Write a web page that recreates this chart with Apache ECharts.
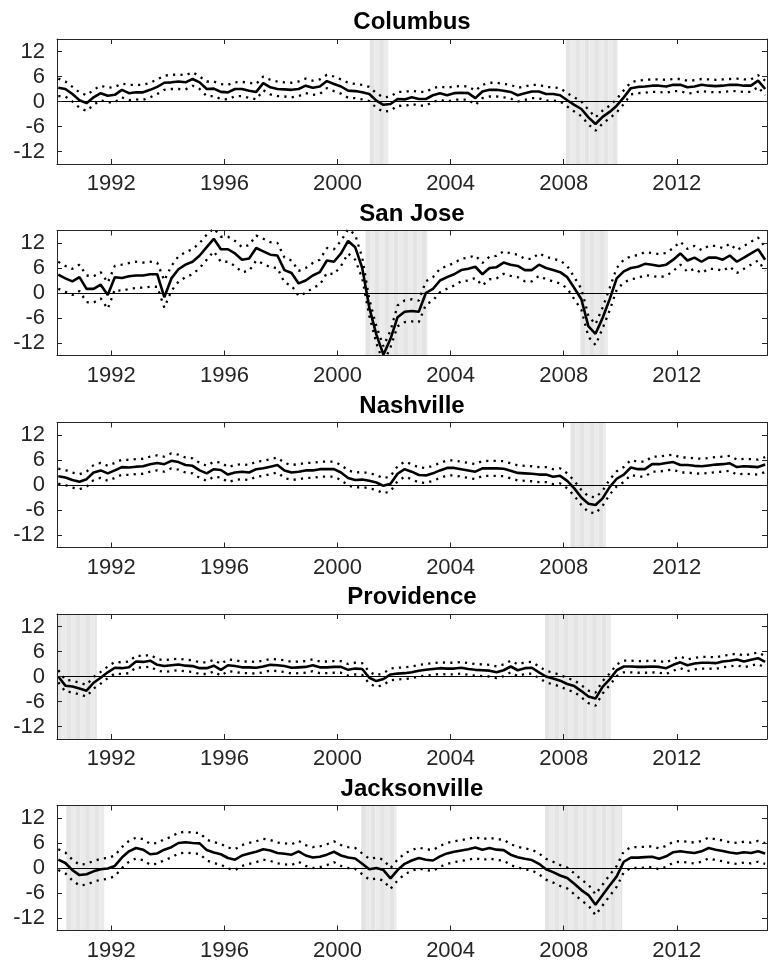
<!DOCTYPE html>
<html><head><meta charset="utf-8">
<script src="https://cdn.jsdelivr.net/npm/echarts@6/dist/echarts.min.js"></script>
<style>html,body{margin:0;padding:0;background:#fff}#c{width:769px;height:964px}</style>
</head><body><div id="c"></div><script>
// quarterly observation dates (1990Q1 .. 2015Q1)
const dates = [];
for (let i = 0; i < 101; i++) dates.push(+(1990.125 + 0.25 * i).toFixed(3));

const names = ['Columbus', 'San Jose', 'Nashville', 'Providence', 'Jacksonville'];
const xTicks = [1992, 1996, 2000, 2004, 2008, 2012];
const yTicks = [-12, -6, 0, 6, 12];

// ---------- Columbus ----------
const colMain = [
 3.3,3.0,1.8,0.3, -0.4,1.0,2.0,1.4, 1.6,2.8,2.0,2.2, 2.2,2.8,3.5,4.5, 4.6,4.8,4.6,5.4,
 4.6,3.0,3.1,2.3, 2.2,3.0,3.0,2.6, 2.3,4.4,3.4,3.0, 2.9,2.8,3.0,3.8, 3.3,3.6,4.9,4.2,
 3.6,2.6,2.5,2.2, 1.8,0.2,-0.8,-0.6, 0.6,0.5,1.0,0.6, 0.6,1.5,2.0,1.5, 2.0,2.1,2.0,0.8,
 2.4,2.8,2.8,2.6, 2.3,1.5,2.0,2.4, 2.4,1.8,1.8,1.5, 0.3,-0.8,-1.8,-3.8, -5.4,-3.7,-2.5,-1.0,
 1.0,3.2,3.5,3.6, 3.8,3.8,3.6,4.0, 4.0,3.4,3.6,4.0, 3.8,3.7,3.8,4.0, 4.0,3.8,3.8,5.0, 3.0];
const colUpper = [
 5.5,4.8,3.5,2.2, 1.5,2.8,3.8,3.3, 3.5,4.3,4.0,4.0, 4.0,4.5,5.3,6.2, 6.4,6.5,6.3,7.0,
 6.0,4.8,4.8,4.2, 4.0,4.6,4.7,4.5, 4.2,6.0,5.2,4.8, 4.6,4.5,4.8,5.5, 5.0,5.3,6.4,6.0,
 5.3,4.5,4.2,4.0, 3.5,2.0,1.0,1.2, 2.3,2.3,2.6,2.3, 2.3,3.2,3.6,3.3, 3.6,3.7,3.6,2.6,
 4.0,4.5,4.5,4.2, 4.0,3.3,3.6,4.0, 4.0,3.5,3.4,3.2, 2.0,1.0,0.0,-2.0, -3.8,-2.2,-1.0,0.6,
 2.7,4.6,5.0,5.2, 5.3,5.3,5.2,5.4, 5.4,5.0,5.1,5.4, 5.3,5.2,5.3,5.4, 5.5,5.3,5.3,6.3, 5.0];
const colLower = [
 1.3,1.2,0.0,-1.5, -2.3,-0.8,0.3,-0.2, -0.2,1.0,0.3,0.5, 0.4,1.0,1.8,2.8, 3.0,3.0,2.9,3.8,
 3.0,1.3,1.3,0.6, 0.5,1.3,1.3,0.9, 0.5,2.7,1.7,1.3, 1.2,1.0,1.3,2.0, 1.6,1.8,3.2,2.5,
 1.9,0.9,0.8,0.5, 0.1,-1.5,-2.5,-2.2, -1.0,-1.1,-0.6,-1.0, -1.0,-0.1,0.4,0.0, 0.4,0.5,0.4,-0.8,
 0.8,1.2,1.2,1.0, 0.7,0.0,0.4,0.8, 0.8,0.2,0.2,0.0, -1.2,-2.4,-3.5,-5.5, -7.0,-5.3,-4.0,-2.6,
 -0.6,1.7,2.0,2.1, 2.3,2.3,2.1,2.5, 2.5,1.9,2.1,2.5, 2.3,2.2,2.3,2.5, 2.5,2.3,2.3,3.5, 1.5];

// ---------- San Jose ----------
const sjMain = [
 4.4,3.5,2.8,3.8, 1.0,1.0,2.0,-0.5, 3.8,3.6,4.0,4.2, 4.2,4.5,4.5,-1.0, 3.5,5.7,6.8,7.5,
 9.0,11.0,13.0,10.5, 10.5,9.5,8.0,8.3, 10.8,10.0,9.2,9.0, 5.5,4.8,2.3,3.0, 4.2,5.0,7.8,7.5,
 9.5,12.5,11.0,6.0, -3.5,-10.0,-14.8,-11.0, -5.8,-4.5,-4.3,-4.5, 0.0,1.0,3.0,3.8, 4.5,5.5,5.8,6.3,
 4.5,6.0,6.2,7.3, 6.8,6.5,5.5,5.5, 6.8,6.0,5.5,5.0, 3.8,1.2,-1.5,-8.0, -9.8,-6.0,-1.5,3.5,
 5.2,6.0,6.3,7.0, 6.8,6.5,6.8,8.0, 9.5,7.8,8.5,7.5, 8.5,8.5,8.0,9.0, 7.5,8.5,9.5,10.5, 8.0];
const sjUpper = [
 7.5,6.5,5.8,6.8, 4.2,4.0,5.0,2.5, 6.5,6.8,7.2,7.5, 7.3,7.5,7.3,3.0, 6.5,8.8,9.8,10.5,
 12.0,14.0,15.5,13.5, 13.5,12.5,11.0,11.5, 13.8,13.0,12.2,12.0, 8.5,7.8,5.3,6.0, 7.2,8.0,10.8,10.5,
 12.5,15.3,14.0,8.5, -1.5,-8.0,-12.8,-9.0, -3.0,-1.8,-1.5,-1.8, 2.8,3.8,5.8,6.5, 7.2,8.2,8.5,9.0,
 7.2,8.7,8.9,10.0, 9.5,9.2,8.2,8.2, 9.5,8.7,8.2,7.8, 6.5,3.8,1.0,-5.5, -7.5,-3.5,1.2,6.0,
 8.0,8.8,9.1,9.8, 9.6,9.3,9.6,10.8, 12.3,10.6,11.3,10.3, 11.3,11.3,10.8,11.8, 10.3,11.3,12.3,13.3, 11.0];
const sjLower = [
 1.0,0.3,-0.5,0.5, -2.2,-2.3,-1.3,-3.8, 0.8,0.5,1.0,1.2, 1.3,1.5,1.5,-3.5, 0.5,2.7,3.8,4.5,
 6.0,8.0,10.0,7.5, 7.5,6.5,5.0,5.3, 7.8,7.0,6.2,6.0, 2.5,1.8,-0.7,0.0, 1.2,2.0,4.8,4.5,
 6.5,9.5,8.0,3.5, -5.5,-12.0,-16.8,-13.0, -8.0,-7.0,-6.8,-7.0, -2.8,-1.8,0.2,1.0, 1.8,2.8,3.0,3.6,
 1.8,3.3,3.5,4.6, 4.1,3.8,2.8,2.8, 4.1,3.3,2.8,2.3, 1.1,-1.5,-4.0,-10.5, -12.5,-8.5,-4.2,0.8,
 2.5,3.3,3.6,4.3, 4.1,3.8,4.1,5.3, 6.8,5.1,5.8,4.8, 5.8,5.8,5.3,6.3, 4.8,5.8,6.8,7.8, 5.3];

// ---------- Nashville ----------
const naMain = [
 2.1,1.8,1.2,0.8, 1.4,3.0,3.5,2.8, 3.5,4.3,4.2,4.4, 4.5,5.0,5.3,5.0, 5.8,5.5,4.8,4.6,
 3.5,2.8,3.8,3.6, 2.5,3.0,3.2,3.0, 3.8,4.0,4.4,4.8, 3.5,3.0,3.2,3.5, 3.5,3.8,3.8,3.8,
 3.0,1.7,1.2,1.3, 1.0,0.6,-0.2,0.3, 2.7,3.8,3.2,2.4, 2.3,2.8,3.5,4.1, 4.1,3.8,3.5,3.2,
 4.0,4.0,4.0,3.9, 3.4,2.9,2.8,2.7, 2.5,2.5,2.0,2.2, 1.0,-0.8,-3.0,-4.5, -4.8,-3.2,-0.5,1.5,
 2.5,4.2,3.8,3.8, 5.0,5.0,5.3,5.5, 4.8,4.8,4.6,4.5, 4.7,4.9,5.0,5.2, 4.3,4.5,4.4,4.3, 4.9];
const naUpper = [
 3.9,3.6,3.0,2.6, 3.2,4.8,5.3,4.6, 5.3,6.1,6.0,6.2, 6.3,6.8,7.1,6.8, 7.6,7.3,6.6,6.4,
 5.3,4.6,5.6,5.4, 4.3,4.8,5.0,4.8, 5.6,5.8,6.2,6.6, 5.3,4.8,5.0,5.3, 5.3,5.6,5.6,5.6,
 4.8,3.5,3.0,3.1, 2.8,2.4,1.6,2.1, 4.5,5.6,5.0,4.2, 4.1,4.6,5.3,5.9, 5.9,5.6,5.3,5.0,
 5.8,5.8,5.8,5.7, 5.2,4.7,4.6,4.5, 4.3,4.3,3.8,4.0, 2.8,1.0,-1.2,-2.7, -3.0,-1.4,1.3,3.3,
 4.3,6.0,5.6,5.6, 6.8,6.8,7.1,7.3, 6.6,6.6,6.4,6.3, 6.5,6.7,6.8,7.0, 6.1,6.3,6.2,6.1, 6.7];
const naLower = [
 0.3,0.0,-0.6,-1.0, -0.4,1.2,1.7,1.0, 1.7,2.5,2.4,2.6, 2.7,3.2,3.5,3.2, 4.0,3.7,3.0,2.8,
 1.7,1.0,2.0,1.8, 0.7,1.2,1.4,1.2, 2.0,2.2,2.6,3.0, 1.7,1.2,1.4,1.7, 1.7,2.0,2.0,2.0,
 1.2,-0.1,-0.6,-0.5, -0.8,-1.2,-2.0,-1.5, 0.9,2.0,1.4,0.6, 0.5,1.0,1.7,2.3, 2.3,2.0,1.7,1.4,
 2.2,2.2,2.2,2.1, 1.6,1.1,1.0,0.9, 0.7,0.7,0.2,0.4, -0.8,-2.6,-4.8,-6.5, -6.8,-5.0,-2.3,-0.3,
 0.7,2.4,2.0,2.0, 3.2,3.2,3.5,3.7, 3.0,3.0,2.8,2.7, 2.9,3.1,3.2,3.4, 2.5,2.7,2.6,2.5, 3.1];

// ---------- Providence ----------
const prMain = [
 0.0,-2.2,-2.4,-2.9, -3.4,-1.5,-0.3,1.0, 2.1,2.0,2.2,3.6, 3.5,3.8,2.8,2.5, 2.7,2.9,2.6,2.5,
 2.0,2.0,2.6,1.6, 2.7,2.5,2.2,2.2, 2.1,2.4,2.8,2.7, 2.5,2.1,2.2,2.3, 2.7,2.2,2.2,2.3,
 2.3,1.6,1.9,1.8, -0.3,-1.1,-0.6,0.5, 0.7,0.8,1.0,1.4, 1.6,1.8,2.0,1.9, 1.9,2.1,1.8,1.6,
 1.5,1.4,1.0,1.5, 2.4,1.5,2.0,2.1, 1.0,0.0,-0.5,-1.0, -1.8,-2.3,-3.5,-4.8, -5.3,-2.5,-0.7,1.5,
 2.4,2.4,2.3,2.3, 2.4,2.3,2.0,2.8, 3.4,2.7,3.1,3.3, 3.3,3.2,3.6,3.8, 4.1,3.6,4.0,4.4, 3.5];
const prUpper = [
 1.5,-0.8,-1.0,-1.5, -2.0,-0.1,1.1,2.4, 3.5,3.4,3.6,5.0, 4.9,5.2,4.2,3.9, 4.1,4.3,4.0,3.9,
 3.4,3.4,4.0,3.0, 4.1,3.9,3.6,3.6, 3.5,3.8,4.2,4.1, 3.9,3.5,3.6,3.7, 4.1,3.6,3.6,3.7,
 3.7,3.0,3.3,3.2, 1.1,0.3,0.8,1.9, 2.1,2.2,2.4,2.8, 3.0,3.2,3.4,3.3, 3.3,3.5,3.2,3.0,
 2.9,2.8,2.4,2.9, 3.8,2.9,3.4,3.5, 2.4,1.4,0.9,0.4, -0.4,-0.9,-2.1,-3.4, -3.9,-1.1,0.7,2.9,
 3.8,3.8,3.7,3.7, 3.8,3.7,3.4,4.2, 4.8,4.1,4.5,4.7, 4.7,4.6,5.0,5.2, 5.5,5.0,5.4,5.8, 4.9];
const prLower = [
 -1.4,-3.6,-3.8,-4.3, -4.8,-2.9,-1.7,-0.4, 0.7,0.6,0.8,2.2, 2.1,2.4,1.4,1.1, 1.3,1.5,1.2,1.1,
 0.6,0.6,1.2,0.2, 1.3,1.1,0.8,0.8, 0.7,1.0,1.4,1.3, 1.1,0.7,0.8,0.9, 1.3,0.8,0.8,0.9,
 0.9,0.2,0.5,0.4, -1.7,-2.5,-2.0,-0.9, -0.7,-0.6,-0.4,0.0, 0.2,0.4,0.6,0.5, 0.5,0.7,0.4,0.2,
 0.1,0.0,-0.4,0.1, 1.0,0.1,0.6,0.7, -0.4,-1.4,-1.9,-2.4, -3.2,-3.7,-5.0,-6.4, -7.0,-4.1,-2.1,0.1,
 1.0,1.0,0.9,0.9, 1.0,0.9,0.6,1.4, 2.0,1.3,1.7,1.9, 1.9,1.8,2.2,2.4, 2.7,2.2,2.6,3.0, 2.1];

// ---------- Jacksonville ----------
const jaMain = [
 2.0,1.2,-0.5,-1.7, -1.5,-0.8,-0.3,-0.1, 0.5,2.5,4.0,4.8, 4.4,3.3,3.5,4.4, 5.0,6.0,6.2,6.0,
 5.9,4.3,3.7,3.3, 2.4,2.0,3.0,3.5, 3.9,4.5,4.2,3.6, 3.4,3.2,4.0,3.0, 2.5,2.7,3.2,3.9,
 3.0,2.5,2.3,1.0, -0.3,0.0,-0.5,-2.5, -0.5,1.0,1.8,2.4, 2.0,1.8,2.8,3.5, 3.9,4.2,4.5,4.9,
 4.4,4.8,4.4,4.3, 3.2,2.6,2.2,1.9, 1.0,-0.3,-1.0,-1.8, -2.4,-3.8,-5.3,-6.5, -8.8,-6.5,-4.2,-2.0,
 1.5,2.5,2.5,2.6, 2.7,2.2,2.8,3.8, 4.0,3.8,3.6,4.0, 4.8,4.4,4.1,3.7, 3.5,3.8,3.6,4.0, 3.5];
const jaUpper = [
 4.5,3.7,2.0,0.8, 1.0,1.7,2.2,2.4, 3.0,5.0,6.5,7.3, 6.9,5.8,6.0,6.9, 7.5,8.5,8.7,8.5,
 8.4,6.8,6.2,5.8, 4.9,4.5,5.5,6.0, 6.4,7.0,6.7,6.1, 5.9,5.7,6.5,5.5, 5.0,5.2,5.7,6.4,
 5.5,5.0,4.8,3.5, 2.2,2.5,2.0,0.0, 2.0,3.5,4.3,4.9, 4.5,4.3,5.3,6.0, 6.4,6.7,7.0,7.4,
 6.9,7.3,6.9,6.8, 5.7,5.1,4.7,4.4, 3.5,2.2,1.5,0.7, 0.1,-1.3,-2.8,-4.0, -6.3,-4.0,-1.7,0.5,
 4.0,5.0,5.0,5.1, 5.2,4.7,5.3,6.3, 6.5,6.3,6.1,6.5, 7.3,6.9,6.6,6.2, 6.0,6.3,6.1,6.5, 6.0];
const jaLower = [
 -0.5,-1.3,-3.0,-4.2, -4.0,-3.3,-2.8,-2.6, -2.0,0.0,1.5,2.3, 1.9,0.8,1.0,1.9, 2.5,3.5,3.7,3.5,
 3.4,1.8,1.2,0.8, -0.1,-0.5,0.5,1.0, 1.4,2.0,1.7,1.1, 0.9,0.7,1.5,0.5, 0.0,0.2,0.7,1.4,
 0.5,0.0,-0.2,-1.5, -2.8,-2.5,-3.0,-5.0, -3.0,-1.5,-0.7,-0.1, -0.5,-0.7,0.3,1.0, 1.4,1.7,2.0,2.4,
 1.9,2.3,1.9,1.8, 0.7,0.1,-0.3,-0.6, -1.5,-2.8,-3.5,-4.3, -4.9,-6.3,-7.8,-9.0, -11.3,-9.0,-6.7,-4.5,
 -1.0,0.0,0.0,0.1, 0.2,-0.3,0.3,1.3, 1.5,1.3,1.1,1.5, 2.3,1.9,1.6,1.2, 1.0,1.3,1.1,1.5, 1.0];

// recession shading periods
const colRec = [[2001.14, 2001.80], [2008.08, 2009.90]];
const sjRec  = [[2000.99, 2003.18], [2008.59, 2009.56]];
const naRec  = [[2008.24, 2009.49]];
const prRec  = [[1990.08, 1991.49], [2007.34, 2009.67]];
const jaRec  = [[1990.41, 1991.75], [2000.84, 2002.08], [2007.34, 2010.07]];

const panels = [
  {main: colMain, up: colUpper, lo: colLower, rec: colRec},
  {main: sjMain, up: sjUpper, lo: sjLower, rec: sjRec},
  {main: naMain, up: naUpper, lo: naLower, rec: naRec},
  {main: prMain, up: prUpper, lo: prLower, rec: prRec},
  {main: jaMain, up: jaUpper, lo: jaLower, rec: jaRec}
];

const tops = [39, 230.5, 422.5, 614, 805.5];
const H = 125, L = 57, R = 2;
const XMIN = 1990.08, XMAX = 2015.19;
const FONT = 'Liberation Sans, Arial, Helvetica, sans-serif';
const AX = '#262626';

// split each shaded period into thin alternating stripes (visual texture only)
function stripes(rec) {
  const out = [];
  rec.forEach(r => {
    const step = 1 / 6;
    let a = r[0], j = 0;
    while (a < r[1] - 1e-6) {
      const b = Math.min(r[1], a + step);
      out.push([{xAxis: a, itemStyle: {color: j % 2 ? '#ebebeb' : '#e4e4e4'}}, {xAxis: b}]);
      a = b; j++;
    }
  });
  return out;
}

const grid = [], xAxis = [], yAxis = [], series = [], title = [];
const pair = arr => dates.map((t, i) => [t, arr[i]]);

panels.forEach((p, k) => {
  grid.push({left: L, right: R, top: tops[k], height: H, containLabel: false});
  title.push({text: names[k], left: L + (769 - L - R) / 2, top: tops[k] - 28.5, textAlign: 'center', padding: 0,
    textStyle: {fontFamily: FONT, fontSize: 24, fontWeight: 'bold', color: '#000'}});
  const axCommon = {type: 'value', min: XMIN, max: XMAX, gridIndex: k, z: 6,
    axisLine: {show: true, onZero: false, lineStyle: {color: AX, width: 1}},
    axisTick: {show: true, inside: true, length: 5, customValues: xTicks, lineStyle: {color: AX, width: 1}},
    splitLine: {show: false}};
  xAxis.push(Object.assign({}, axCommon, {position: 'bottom',
    axisLabel: {show: true, customValues: xTicks, margin: 9, fontSize: 22, fontFamily: FONT, color: AX,
      formatter: v => String(Math.round(v))}}));
  xAxis.push(Object.assign({}, axCommon, {position: 'top', axisLabel: {show: false}}));
  const ayCommon = {type: 'value', min: -15, max: 15, gridIndex: k, z: 6,
    axisLine: {show: true, onZero: false, lineStyle: {color: AX, width: 1}},
    axisTick: {show: true, inside: true, length: 5, customValues: yTicks, lineStyle: {color: AX, width: 1}},
    splitLine: {show: false}};
  yAxis.push(Object.assign({}, ayCommon, {position: 'left',
    axisLabel: {show: true, customValues: yTicks, margin: 12, fontSize: 22, fontFamily: FONT, color: AX}}));
  yAxis.push(Object.assign({}, ayCommon, {position: 'right', axisLabel: {show: false}}));

  const xi = 2 * k, yi = 2 * k;
  const dotted = {color: '#000', width: 2.3, type: [2.2, 5.2], cap: 'butt'};
  series.push({type: 'line', xAxisIndex: xi, yAxisIndex: yi, data: pair(p.lo), showSymbol: false, symbol: 'none',
    lineStyle: dotted, z: 3, silent: true, animation: false,
    markArea: {silent: true, z: 1, itemStyle: {color: '#e6e6e6'}, data: stripes(p.rec)},
    markLine: {silent: true, symbol: 'none', z: 2, label: {show: false},
      lineStyle: {color: '#000', width: 1, type: 'solid'}, data: [{yAxis: 0}]}});
  series.push({type: 'line', xAxisIndex: xi, yAxisIndex: yi, data: pair(p.up), showSymbol: false, symbol: 'none',
    lineStyle: dotted, z: 3, silent: true, animation: false});
  series.push({type: 'line', xAxisIndex: xi, yAxisIndex: yi, data: pair(p.main), showSymbol: false, symbol: 'none',
    lineStyle: {color: '#000', width: 2.6}, z: 4, silent: true, animation: false});
});

const chart = echarts.init(document.getElementById('c'), null, {renderer: 'canvas'});
chart.setOption({backgroundColor: '#fff', animation: false, title, grid, xAxis, yAxis, series});
</script></body></html>
